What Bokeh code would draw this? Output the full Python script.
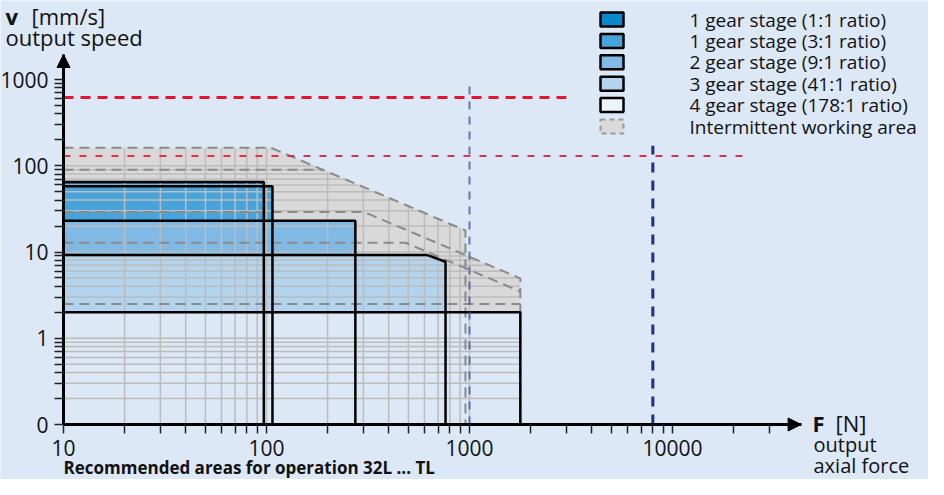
import math
from bokeh.plotting import figure
from bokeh.models import (Range1d, FixedTicker, CustomJSTickFormatter, Label, BoxAnnotation,
                          Arrow, NormalHead)
from bokeh.embed import file_html
from bokeh.resources import INLINE

# ---------------- data ----------------
STAGE_LABELS = ["1 gear stage (1:1 ratio)", "1 gear stage (3:1 ratio)",
                "2 gear stage (9:1 ratio)", "3 gear stage (41:1 ratio)",
                "4 gear stage (178:1 ratio)"]
INTERMITTENT_LABEL = "Intermittent working area"

# continuous operation areas (force in N, speed in mm/s)
CONT_F_MAX = [97, 107, 274, 762, 1780]
CONT_V_MAX = [65, 58, 23, 9.2, 2.0]
CONT_F_KNEE = [97, 107, 274, 620, 1780]
CONT_V_AT_F_MAX = [65, 58, 23, 7.7, 2.0]

# intermittent operation areas
INT_V_MAX = [162, 90, 29, 12.8, 2.5]
INT_POWER = [17000, 17000, 8800, 6200, None]   # v*F limit (None = no limit)
INT_F_MAX = [955, 955, 1780, 1780, 1780]

# limit lines
SPEED_LIMIT_V = [620, 130]
SPEED_LIMIT_F_END = [3000, 22500]
FORCE_LIMIT_F = [1000, 8000]
FORCE_LIMIT_V_TOP = [880, 170]

# axes
X_MAJOR_TICKS = [10, 100, 1000, 10000]
Y_MAJOR_TICKS = [0.1, 1, 10, 100, 1000]
MINOR_STEPS = [2, 3, 4, 5, 6, 7, 8, 9]
X_LAST_TICK = 30000
F_MIN, V_MIN = 10, 0.1
F_AXIS_END, V_AXIS_END = 43000, 1950

# ---------------- layout / style ----------------
W, H = 928, 479
ORIGIN_X, ORIGIN_Y = 63, 424          # canvas px of (F_MIN, V_MIN)
PX_PER_DECADE_X, PX_PER_DECADE_Y = 203.0, 86.25

BG = "#dce8f5"
FONT = "Open Sans"
STAGE_COLORS = ["#0a88cc", "#48a3da", "#80b9e4", "#b2d4ef", BG]
LEGEND_COLORS = ["#0a88cc", "#48a3da", "#80b9e4", "#b2d4ef", "#eef4fb"]
INT_FILL = "#d9d9d9"
DASH_GRAY = "#8a8a8a"
GRID_GRAY = "#bcbcbc"
DASH = "10 6"
TEXT = "#111111"

N = len(STAGE_LABELS)


def cont_outline(i):
    xs = [F_MIN, CONT_F_KNEE[i], CONT_F_MAX[i], CONT_F_MAX[i]]
    ys = [CONT_V_MAX[i], CONT_V_MAX[i], CONT_V_AT_F_MAX[i], V_MIN]
    return xs, ys


def cont_polygon(i):
    xs, ys = cont_outline(i)
    return [F_MIN] + xs, [V_MIN] + ys


def int_top(i, F):
    if F > INT_F_MAX[i]:
        return None
    P = INT_POWER[i]
    return min(INT_V_MAX[i], P / F) if P else INT_V_MAX[i]


def int_outline(i):
    """dashed limit of stage i, leaving out pieces that coincide with a larger stage"""
    vmax, P, fmax = INT_V_MAX[i], INT_POWER[i], INT_F_MAX[i]
    same_curve = any(INT_POWER[j] == P and INT_F_MAX[j] == fmax for j in range(i))
    higher_edge = any(INT_F_MAX[j] == fmax and int_top(j, fmax) > int_top(i, fmax) for j in range(i))
    xs, ys = [F_MIN], [vmax]
    if P and P / vmax < fmax:
        xs.append(P / vmax); ys.append(vmax)
        if same_curve:
            return xs, ys
        xs.append(fmax); ys.append(P / fmax)
    else:
        xs.append(fmax); ys.append(vmax)
    if not higher_edge:
        xs.append(fmax); ys.append(V_MIN)
    return xs, ys


def cont_top(i, F):
    if F > CONT_F_MAX[i]:
        return None
    if F <= CONT_F_KNEE[i]:
        return CONT_V_MAX[i]
    t = (math.log(F) - math.log(CONT_F_KNEE[i])) / (math.log(CONT_F_MAX[i]) - math.log(CONT_F_KNEE[i]))
    return math.exp(math.log(CONT_V_MAX[i]) + t * (math.log(CONT_V_AT_F_MAX[i]) - math.log(CONT_V_MAX[i])))


def union_top(F):
    vals = [v for v in [cont_top(i, F) for i in range(N)] + [int_top(i, F) for i in range(N)] if v is not None]
    return max(vals) if vals else None


def union_right(v):
    best = None
    for i in range(N):
        if v <= INT_V_MAX[i]:
            P = INT_POWER[i]
            f = min(INT_F_MAX[i], P / v) if P else INT_F_MAX[i]
            best = f if best is None else max(best, f)
        if v <= CONT_V_MAX[i]:
            if v <= CONT_V_AT_F_MAX[i]:
                f = CONT_F_MAX[i]
            else:
                t = (math.log(v) - math.log(CONT_V_MAX[i])) / (math.log(CONT_V_AT_F_MAX[i]) - math.log(CONT_V_MAX[i]))
                f = math.exp(math.log(CONT_F_KNEE[i]) + t * (math.log(CONT_F_MAX[i]) - math.log(CONT_F_KNEE[i])))
            best = f if best is None else max(best, f)
    return best


# union outline of all working areas
breaks = set([F_MIN] + CONT_F_KNEE + CONT_F_MAX + INT_F_MAX)
for i in range(N):
    if INT_POWER[i]:
        breaks.add(INT_POWER[i] / INT_V_MAX[i])
breaks = sorted(b for b in breaks if b <= max(INT_F_MAX + CONT_F_MAX))
ux, uy = [F_MIN], [V_MIN]
for b in breaks:
    tl = union_top(b)
    tr = union_top(b * (1 + 1e-9))
    ux.append(b); uy.append(tl)
    if tr is None:
        ux.append(b); uy.append(V_MIN)
    elif abs(tr - tl) > 1e-9:
        ux.append(b); uy.append(tr)

x_minor = [m * d for d in X_MAJOR_TICKS for m in MINOR_STEPS if m * d <= X_LAST_TICK]
y_minor = [m * d for d in Y_MAJOR_TICKS[:-1] for m in MINOR_STEPS]

# ranges so that the frame fills the whole canvas
x_lo = F_MIN * 10 ** (-ORIGIN_X / PX_PER_DECADE_X)
x_hi = F_MIN * 10 ** ((W - ORIGIN_X) / PX_PER_DECADE_X)
y_lo = V_MIN * 10 ** (-(H - ORIGIN_Y) / PX_PER_DECADE_Y)
y_hi = V_MIN * 10 ** (ORIGIN_Y / PX_PER_DECADE_Y)

# ---------------- figure ----------------
p = figure(width=W, height=H, x_axis_type="log", y_axis_type="log",
           x_range=Range1d(x_lo, x_hi), y_range=Range1d(y_lo, y_hi),
           output_backend="svg", toolbar_location=None,
           min_border=0, background_fill_color=BG, border_fill_color=BG,
           outline_line_color=None)
p.grid.visible = False

fmt = CustomJSTickFormatter(code="return tick < 0.5 ? '0' : Math.round(tick).toString();")
p.xaxis.ticker = FixedTicker(ticks=X_MAJOR_TICKS, minor_ticks=x_minor)
p.yaxis.ticker = FixedTicker(ticks=Y_MAJOR_TICKS, minor_ticks=y_minor)
p.xaxis.fixed_location = V_MIN
p.yaxis.fixed_location = F_MIN
p.xaxis.bounds = (F_MIN, F_AXIS_END)
p.yaxis.bounds = (V_MIN, V_AXIS_END)
for ax in (p.xaxis[0], p.yaxis[0]):
    ax.formatter = fmt
    ax.axis_line_width = 3
    ax.axis_line_color = "black"
    ax.major_tick_line_color = "#222222"
    ax.minor_tick_line_color = "#222222"
    ax.major_tick_line_width = 1.5
    ax.minor_tick_line_width = 1.5
    ax.major_tick_in = 0
    ax.major_tick_out = 9
    ax.minor_tick_in = 0
    ax.minor_tick_out = 9
    ax.major_label_text_font = FONT
    ax.major_label_text_font_size = "21px"
    ax.major_label_text_color = TEXT
p.xaxis.major_label_standoff = 6
p.yaxis.major_label_standoff = 6

# intermittent area (union)
p.patch(ux, uy, fill_color=INT_FILL, line_color=None)

# continuous areas
for i in range(N):
    xs, ys = cont_polygon(i)
    p.patch(xs, ys, fill_color=STAGE_COLORS[i], line_color=None)

# grid clipped to the working area
gx0, gy0, gx1, gy1 = [], [], [], []
fmax_all = max(ux)
for t in sorted(X_MAJOR_TICKS + x_minor):
    if F_MIN < t <= fmax_all:
        top = union_top(t)
        if top:
            gx0.append(t); gy0.append(V_MIN); gx1.append(t); gy1.append(top)
vtop_all = union_top(F_MIN)
for t in sorted(Y_MAJOR_TICKS + y_minor):
    if V_MIN < t <= vtop_all:
        r = union_right(t)
        if r:
            gx0.append(F_MIN); gy0.append(t); gx1.append(r); gy1.append(t)
p.segment(gx0, gy0, gx1, gy1, line_color=GRID_GRAY, line_width=1.5)

# intermittent limits (dashed)
ixs, iys = zip(*[int_outline(i) for i in range(N)])
p.multi_line(list(ixs), list(iys), line_color=DASH_GRAY, line_width=2, line_dash=DASH)

# continuous outlines on top
cxs, cys = zip(*[cont_outline(i) for i in range(N)])
p.multi_line(list(cxs), list(cys), line_color="black", line_width=2.5)

# limit lines
p.segment([F_MIN], [SPEED_LIMIT_V[0]], [SPEED_LIMIT_F_END[0]], [SPEED_LIMIT_V[0]],
          line_color="#e3152f", line_width=3, line_dash="10 7")
p.segment([F_MIN], [SPEED_LIMIT_V[1]], [SPEED_LIMIT_F_END[1]], [SPEED_LIMIT_V[1]],
          line_color="#e33049", line_width=2, line_dash="7 9")
p.segment([FORCE_LIMIT_F[0]], [V_MIN], [FORCE_LIMIT_F[0]], [FORCE_LIMIT_V_TOP[0]],
          line_color="#3a52a6", line_alpha=0.75, line_width=2, line_dash="8 7")
p.segment([FORCE_LIMIT_F[1]], [V_MIN], [FORCE_LIMIT_F[1]], [FORCE_LIMIT_V_TOP[1]],
          line_color="#1c2f8c", line_width=3, line_dash="10 8")

# axis arrow heads
p.add_layout(Arrow(end=NormalHead(size=13, fill_color="black", line_color="black"),
                   x_start=F_MIN, y_start=1000, x_end=F_MIN, y_end=V_AXIS_END,
                   line_color="black", line_width=3))
p.add_layout(Arrow(end=NormalHead(size=13, fill_color="black", line_color="black"),
                   x_start=10000, y_start=V_MIN, x_end=F_AXIS_END, y_end=V_MIN,
                   line_color="black", line_width=3))


def label(text, x, y, size, bold=False, baseline="middle"):
    try:
        lab = Label(x=x, y=y, x_units="canvas", y_units="canvas", text=text)
    except Exception:
        lab = Label(x=x, y=H - y, x_units="screen", y_units="screen", text=text)
    lab.text_font = FONT
    lab.text_font_size = size
    lab.text_font_style = "bold" if bold else "normal"
    lab.text_baseline = baseline
    lab.text_align = "left"
    lab.text_color = TEXT
    p.add_layout(lab)


def box(left, top, w, h, fill, line_color, line_width, dash="solid"):
    style = dict(fill_color=fill, fill_alpha=1.0, line_color=line_color, line_alpha=1.0,
                 line_width=line_width, line_dash=dash)
    try:
        b = BoxAnnotation(left=left, right=left + w, top=top, bottom=top + h,
                          left_units="canvas", right_units="canvas",
                          top_units="canvas", bottom_units="canvas", **style)
    except Exception:
        b = BoxAnnotation(left=left, right=left + w, top=H - top, bottom=H - top - h,
                          left_units="screen", right_units="screen",
                          top_units="screen", bottom_units="screen", **style)
    p.add_layout(b)


# legend (drawn as boxes + labels to match the row spacing)
LEG_BOX_X, LEG_TEXT_X, LEG_ROW0, LEG_ROW_STEP = 600, 689, 19, 21.4
for k, text in enumerate(STAGE_LABELS + [INTERMITTENT_LABEL]):
    cy = LEG_ROW0 + k * LEG_ROW_STEP
    if k < N:
        box(LEG_BOX_X, cy - 7, 23, 14, LEGEND_COLORS[k], "black", 2.5)
    else:
        box(LEG_BOX_X, cy - 7, 23, 14, INT_FILL, "#9a9a9a", 2, "5 4")
    label(text, LEG_TEXT_X, cy, "19px")

# axis titles
label("v", 5, 15, "22px", bold=True)
label("[mm/s]", 31, 15, "22px")
label("output speed", 5, 36, "22px")
label("F", 812, 422, "22px", bold=True)
label("[N]", 835, 422, "22px")
label("output", 813, 444, "20px")
label("axial force", 813, 465, "20px")
label("Recommended areas for operation 32L ... TL", 63, 467, "17px", bold=True)

open("out.html", "w").write(file_html(p, INLINE))
